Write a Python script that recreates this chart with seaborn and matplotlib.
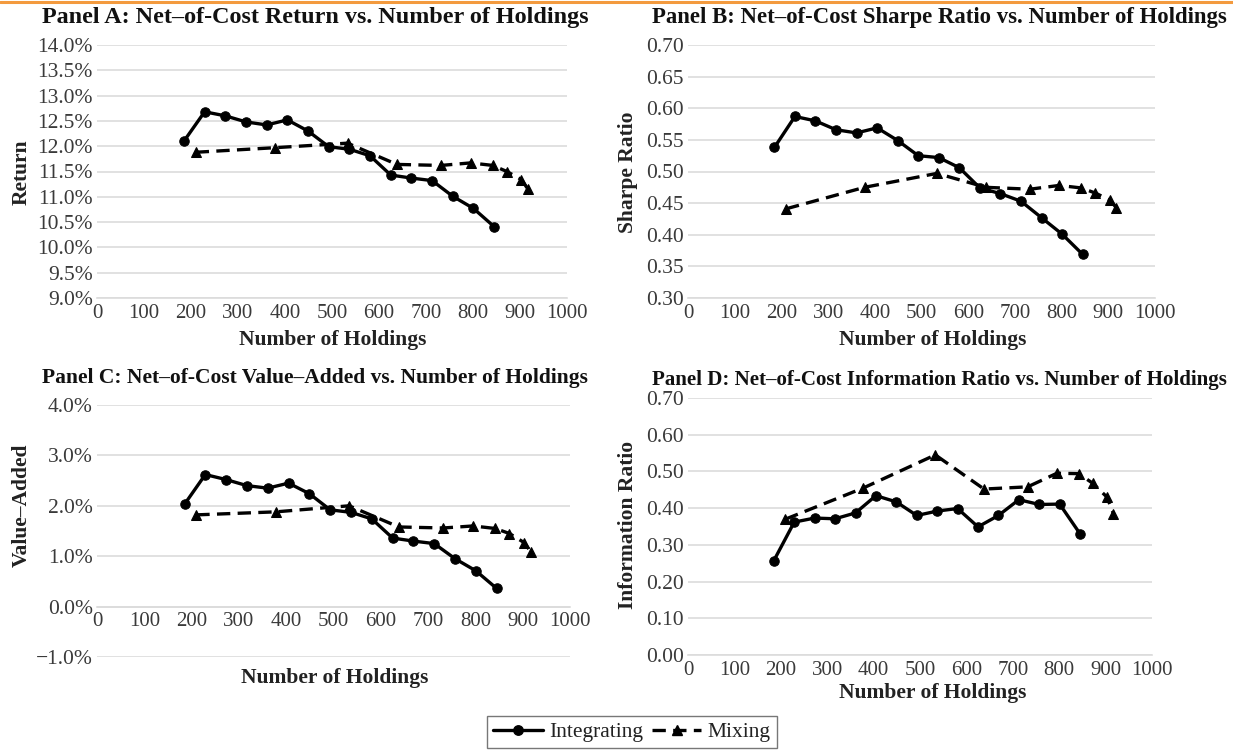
import matplotlib
matplotlib.use("Agg")
import matplotlib.pyplot as plt
import matplotlib.lines as mlines
from matplotlib.ticker import FuncFormatter, MultipleLocator
import seaborn as sns
import pandas as pd

# ---------------- data ----------------
holdings_integrating = [185, 229, 273, 317, 361, 405, 449, 493, 537, 581, 625, 669, 713, 757, 801, 845]
holdings_mixing = [210, 378, 533, 638, 732, 795, 842, 872, 903, 917]

return_integrating = [12.10, 12.68, 12.60, 12.48, 12.42, 12.52, 12.30, 11.99, 11.94, 11.81, 11.43, 11.37, 11.32, 11.01, 10.77, 10.41]
return_mixing = [11.88, 11.97, 12.06, 11.64, 11.62, 11.67, 11.62, 11.50, 11.34, 11.15]

sharpe_integrating = [0.538, 0.587, 0.580, 0.566, 0.561, 0.569, 0.549, 0.525, 0.522, 0.506, 0.474, 0.465, 0.453, 0.427, 0.401, 0.369]
sharpe_mixing = [0.441, 0.475, 0.497, 0.475, 0.472, 0.478, 0.474, 0.466, 0.455, 0.443]

va_integrating = [2.03, 2.62, 2.52, 2.40, 2.35, 2.45, 2.24, 1.92, 1.87, 1.74, 1.36, 1.30, 1.25, 0.95, 0.71, 0.36]
va_mixing = [1.82, 1.88, 2.00, 1.58, 1.56, 1.60, 1.55, 1.45, 1.27, 1.09]

ir_integrating = [0.257, 0.362, 0.373, 0.371, 0.387, 0.434, 0.417, 0.380, 0.392, 0.399, 0.349, 0.380, 0.423, 0.410, 0.411, 0.330]
ir_mixing = [0.370, 0.455, 0.545, 0.452, 0.458, 0.495, 0.494, 0.468, 0.430, 0.385]

panel_titles = [
    "Panel A: Net\u2013of-Cost Return vs. Number of Holdings",
    "Panel B: Net\u2013of-Cost Sharpe Ratio vs. Number of Holdings",
    "Panel C: Net\u2013of-Cost Value\u2013Added vs. Number of Holdings",
    "Panel D: Net\u2013of-Cost Information Ratio vs. Number of Holdings",
]
y_labels = ["Return", "Sharpe Ratio", "Value\u2013Added", "Information Ratio"]
x_label = "Number of Holdings"
series_names = ["Integrating", "Mixing"]

# ---------------- style ----------------
sns.set_theme(style="white")
plt.rcParams["font.family"] = ["Liberation Serif", "DejaVu Serif"]
TICK_COLOR = "#3a3a3a"
GRID_COLOR = "#dcdcdc"

fig = plt.figure(figsize=(12.33, 7.53), dpi=100)
W, H = 1233.0, 753.0


def add_axes_px(left, top, right, bottom):
    return fig.add_axes([left / W, 1 - bottom / H, (right - left) / W, (bottom - top) / H])


def pct_fmt(v, pos):
    s = f"{abs(v):.1f}%"
    return ("\u2212" + s) if v < -1e-9 else s


def dec_fmt(v, pos):
    return f"{v:.2f}"


panels = [
    dict(box=(97, 45, 567, 298), ylim=(9.0, 14.0), step=0.5, fmt=pct_fmt,
         integ=return_integrating, mix=return_mixing, xaxis_at=None),
    dict(box=(688, 45, 1155, 298), ylim=(0.30, 0.70), step=0.05, fmt=dec_fmt,
         integ=sharpe_integrating, mix=sharpe_mixing, xaxis_at=None),
    dict(box=(97, 405, 570, 657), ylim=(-1.0, 4.0), step=1.0, fmt=pct_fmt,
         integ=va_integrating, mix=va_mixing, xaxis_at=0.0),
    dict(box=(688, 398, 1152, 655), ylim=(0.0, 0.70), step=0.10, fmt=dec_fmt,
         integ=ir_integrating, mix=ir_mixing, xaxis_at=None),
]

axes = []
for p in panels:
    ax = add_axes_px(*p["box"])
    df_i = pd.DataFrame({"x": holdings_integrating, "y": p["integ"]})
    df_m = pd.DataFrame({"x": holdings_mixing, "y": p["mix"]})
    sns.lineplot(data=df_i, x="x", y="y", ax=ax, color="black", linewidth=2.4,
                 marker="o", markersize=6.8, markeredgecolor="black", zorder=3)
    sns.lineplot(data=df_m, x="x", y="y", ax=ax, color="black", linewidth=2.4,
                 marker="^", markersize=7.2, markeredgecolor="black", zorder=3,
                 linestyle=(0, (4.0, 2.2)))
    ax.set_xlim(0, 1000)
    ax.set_ylim(*p["ylim"])
    ax.xaxis.set_major_locator(MultipleLocator(100))
    ax.yaxis.set_major_locator(MultipleLocator(p["step"]))
    ax.yaxis.set_major_formatter(FuncFormatter(p["fmt"]))
    ax.grid(axis="y", color=GRID_COLOR, linewidth=1.2)
    ax.grid(axis="x", visible=False)
    for s in ["top", "right", "left"]:
        ax.spines[s].set_visible(False)
    ax.spines["bottom"].set_color(GRID_COLOR)
    ax.spines["bottom"].set_linewidth(1.2)
    if p["xaxis_at"] is not None:
        ax.spines["bottom"].set_position(("data", p["xaxis_at"]))
    ax.tick_params(axis="y", length=0, labelsize=15.5, colors=TICK_COLOR, pad=3)
    ax.tick_params(axis="x", length=0, labelsize=15, colors=TICK_COLOR, pad=4)
    ax.set_xlabel("")
    ax.set_ylabel("")
    ax.set_axisbelow(True)
    axes.append(ax)

# titles, each scaled to the width it takes in the original layout
renderer = fig.canvas.get_renderer()
title_specs = [
    (panel_titles[0], 42, 18, 590),
    (panel_titles[1], 652, 18, 1228),
    (panel_titles[2], 42, 378, 590),
    (panel_titles[3], 652, 380, 1230),
]
for text, x0, yc, x1 in title_specs:
    t = fig.text(x0 / W, 1 - yc / H, text, fontsize=16, fontweight="bold",
                 color="#111111", va="center", ha="left")
    w = t.get_window_extent(renderer=renderer).width
    t.set_fontsize(16 * (x1 - x0) / w)

# axis labels
xl_kw = dict(fontsize=15.5, fontweight="bold", color="#222222", ha="center", va="center")
fig.text(333 / W, 1 - 340 / H, x_label, **xl_kw)
fig.text(933 / W, 1 - 340 / H, x_label, **xl_kw)
fig.text(335 / W, 1 - 678 / H, x_label, **xl_kw)
fig.text(933 / W, 1 - 693 / H, x_label, **xl_kw)

yl_kw = dict(fontsize=15.5, fontweight="bold", color="#222222", ha="center", va="center", rotation=90)
fig.text(22 / W, 1 - 172 / H, y_labels[0], **yl_kw)
fig.text(628 / W, 1 - 172 / H, y_labels[1], **yl_kw)
fig.text(22 / W, 1 - 505 / H, y_labels[2], **yl_kw)
fig.text(628 / W, 1 - 525 / H, y_labels[3], **yl_kw)

# legend
h_int = mlines.Line2D([], [], color="black", linewidth=2.4, marker="o", markersize=6.8)
h_mix = mlines.Line2D([], [], color="black", linewidth=2.4, marker="^", markersize=7.2,
                      linestyle=(0, (4.0, 2.2)))
leg = fig.legend([h_int, h_mix], series_names, loc="center", bbox_to_anchor=(632 / W, 1 - 732 / H),
                 ncol=2, frameon=True, fancybox=False, fontsize=15.5, handlelength=2.3,
                 columnspacing=0.4, handletextpad=0.3, borderpad=0.3)
leg.get_frame().set_edgecolor("#555555")
leg.get_frame().set_linewidth(1.0)
for t in leg.get_texts():
    t.set_color("#222222")

# orange rule at the top
fig.add_artist(mlines.Line2D([0, 1], [1 - 1.5 / H, 1 - 1.5 / H], transform=fig.transFigure,
                             color="#F39A3E", linewidth=2.2))

fig.savefig("out.png", dpi=100, facecolor="white")
